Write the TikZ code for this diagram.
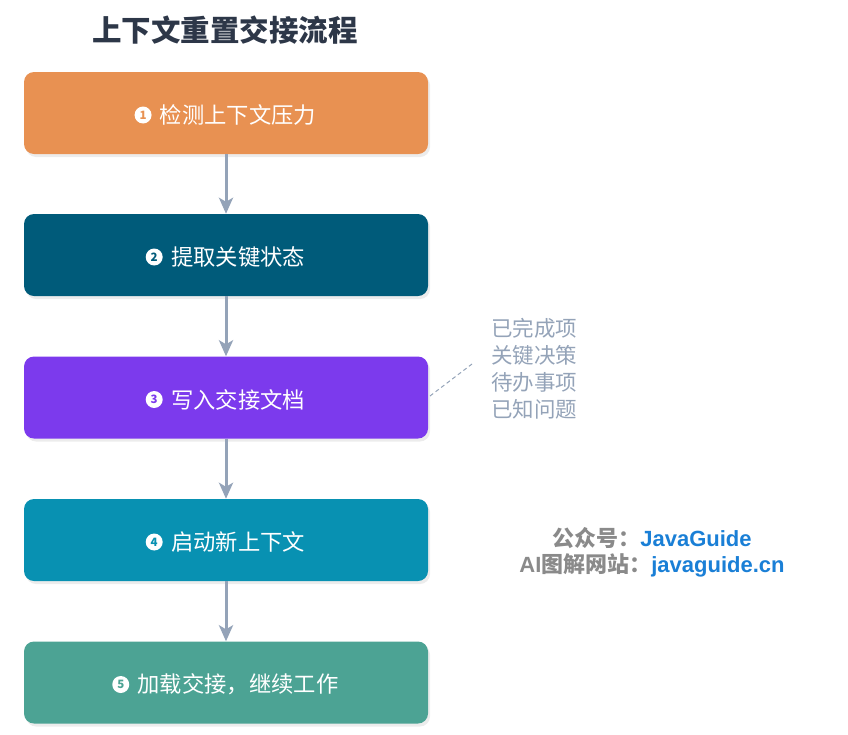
\documentclass[tikz,border=0pt]{standalone}
\usepackage{fontspec}
\setmainfont{Noto Sans CJK SC}
\newfontfamily\latinb{Liberation Sans}
\usetikzlibrary{arrows.meta,shadows}
\definecolor{cOrange}{HTML}{E89152}
\definecolor{cNavy}{HTML}{005B7A}
\definecolor{cPurple}{HTML}{7C3AED}
\definecolor{cCyan}{HTML}{0891B2}
\definecolor{cGreen}{HTML}{4CA394}
\definecolor{cArrow}{HTML}{94A3B8}
\definecolor{cNote}{HTML}{94A3B8}
\definecolor{cTitle}{HTML}{2D3748}
\definecolor{cGray}{HTML}{8A8A8A}
\definecolor{cBlue}{HTML}{1A7FD6}
\tikzset{
  stepbox/.style={draw=none, rounded corners=10pt, minimum width=404pt, minimum height=82pt,
    inner sep=0pt, drop shadow={opacity=0.15, shadow xshift=2pt, shadow yshift=-3pt}},
  steplabel/.style={text=white, font=\fontsize{22.3}{24}\selectfont, inner sep=0pt},
  numdot/.style={circle, fill=white, minimum size=17pt, inner sep=0pt,
    font=\fontsize{11.5}{11.5}\selectfont\bfseries},
  flow/.style={draw=cArrow, line width=3pt, -{Stealth[length=16pt,width=14pt,inset=4pt]}},
  notetext/.style={text=cNote, font=\fontsize{21.5}{27}\selectfont, align=left, inner sep=0pt},
}
\begin{document}
\begin{tikzpicture}[x=1pt,y=-1pt]
\useasboundingbox (0,0) rectangle (848,734);
% title
\node[font=\fontsize{29.5}{32}\selectfont\bfseries, text=cTitle, inner sep=0pt] (title) at (225,30) {上下文重置交接流程};
% boxes
\node[stepbox, fill=cOrange] (b1) at (226,113) {};
\node[stepbox, fill=cNavy] (b2) at (226,255) {};
\node[stepbox, fill=cPurple] (b3) at (226,397.5) {};
\node[stepbox, fill=cCyan] (b4) at (226,540) {};
\node[stepbox, fill=cGreen] (b5) at (226,682.5) {};
% labels
\node[steplabel] (l1) at (238,115) {检测上下文压力};
\node[numdot, text=cOrange, anchor=east] (n1) at ([xshift=-8pt]l1.west) {1};
\node[steplabel] (l2) at (238,257) {提取关键状态};
\node[numdot, text=cNavy, anchor=east] (n2) at ([xshift=-8pt]l2.west) {2};
\node[steplabel] (l3) at (238,399.5) {写入交接文档};
\node[numdot, text=cPurple, anchor=east] (n3) at ([xshift=-8pt]l3.west) {3};
\node[steplabel] (l4) at (238,542) {启动新上下文};
\node[numdot, text=cCyan, anchor=east] (n4) at ([xshift=-8pt]l4.west) {4};
\node[steplabel] (l5) at (238,684.5) {加载交接，继续工作};
\node[numdot, text=cGreen, anchor=east] (n5) at ([xshift=-8pt]l5.west) {5};
% arrows
\draw[flow] (b1.south) -- (b2.north);
\draw[flow] (b2.south) -- (b3.north);
\draw[flow] (b3.south) -- (b4.north);
\draw[flow] (b4.south) -- (b5.north);
% note
\node[notetext, anchor=north west] (note) at (491,318) {已完成项\\关键决策\\待办事项\\已知问题};
\coordinate (nc) at (472,364);
\coordinate (ns) at (430,396);
\draw[cNote, line width=1pt, dash pattern=on 4pt off 3pt] (ns) -- (nc);
% watermark
\node[inner sep=0pt, font=\fontsize{22}{25}\selectfont\bfseries] (w1) at (652,538) {\textcolor{cGray}{公众号：}\textcolor{cBlue}{\latinb\bfseries JavaGuide}};
\node[inner sep=0pt, font=\fontsize{22}{25}\selectfont\bfseries] (w2) at (652,565) {\textcolor{cGray}{{\latinb\bfseries AI}图解网站：}\textcolor{cBlue}{\latinb\bfseries javaguide.cn}};
\end{tikzpicture}
\end{document}
